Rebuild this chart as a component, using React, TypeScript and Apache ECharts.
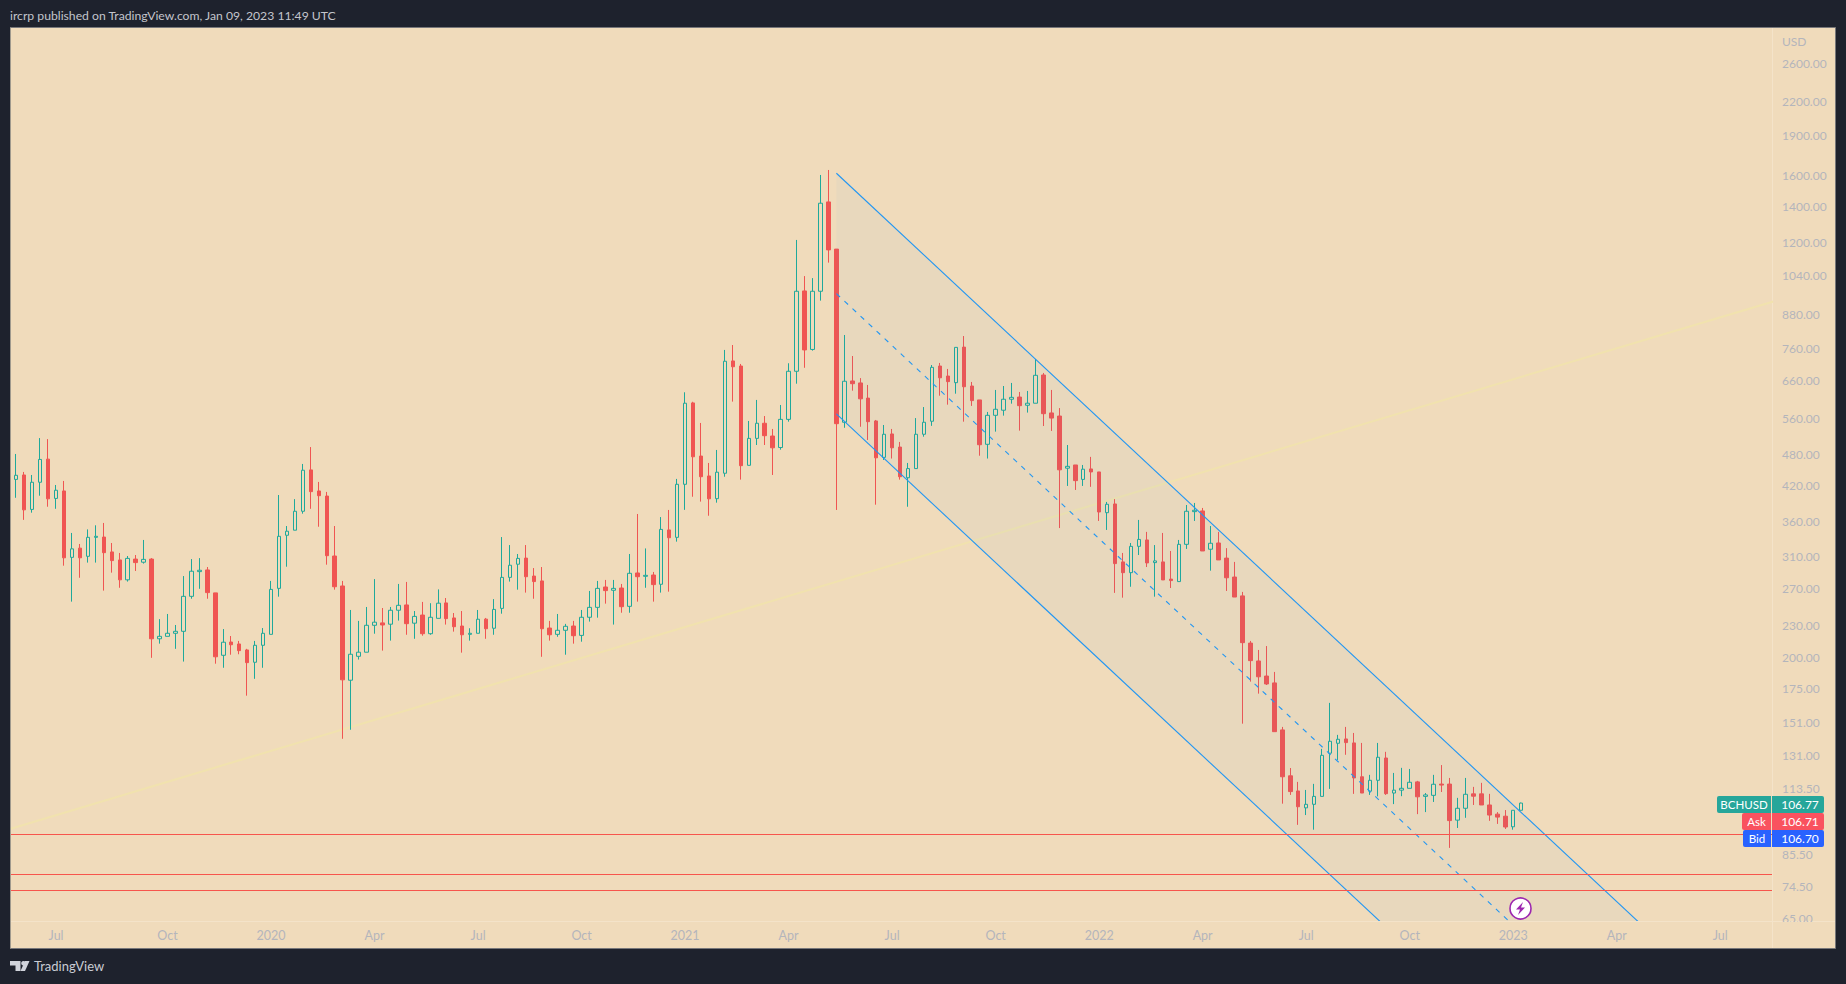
import React, { useEffect, useRef } from "react";
import * as echarts from "echarts";

// weekly candles: [open, close, low, high]
const candles2019 = [
  [415.0,431.4,403.3,449.4],[431.4,439.1,398.5,481.4],[439.7,378.3,362.3,445.5],[379.0,426.1,373.7,439.7],[426.1,470.2,402.1,515.6],
  [470.8,396.7,383.4,513.3],[397.4,411.7,380.0,421.1],[410.4,307.6,297.3,428.5],[308.2,319.7,254.6,342.4],[320.7,307.6,282.2,326.5],
  [309.6,336.0,301.3,347.7],[336.0,337.5,301.3,353.9],[336.4,314.5,267.0,357.5],[315.5,303.9,288.5,327.9],[304.8,279.7,270.3,314.1],
  [279.7,306.8,277.6,310.0],[305.9,301.3,290.6,311.3],[301.8,305.5,300.0,332.2],[305.9,216.9,199.8,307.2],[216.9,219.2,212.4,236.1],
  [219.2,222.1,219.2,241.4],[222.1,224.0,207.7,230.2],[224.0,260.5,196.6,284.3],[260.5,290.3,257.8,305.9],[289.8,291.5,269.1,307.2],
  [291.9,264.7,257.8,295.6],[264.4,200.7,194.8,264.4],[202.0,213.7,191.4,226.2],[213.9,211.4,202.5,219.5],[212.1,206.1,202.9,214.9],
  [206.7,195.7,169.7,207.7],[196.0,210.9,182.5,214.9],[210.9,222.1,191.4,227.2],
];
const candles2020 = [
  [221.1,268.4,221.1,278.4],[269.6,337.5,260.1,403.3],[339.0,345.0,296.0,352.8],[346.5,376.0,346.5,396.2],[376.0,448.8,372.1,461.1],
  [449.4,409.2,380.0,496.0],[410.4,402.1,351.7,426.7],[401.5,310.4,298.6,408.7],[310.0,271.5,268.1,352.8],[272.4,181.7,140.9,278.4],
  [181.4,202.9,146.5,245.6],[201.1,204.7,198.3,234.3],[204.7,229.9,204.7,248.8],[229.9,233.0,221.7,280.6],[232.3,230.2,206.1,247.7],
  [231.0,245.3,215.2,248.8],[245.3,250.6,234.6,274.8],[251.0,231.5,220.7,277.2],[232.0,238.9,216.9,244.5],[240.3,221.7,219.8,254.3],
  [221.7,238.0,220.7,252.9],[236.9,252.9,236.9,268.4],[253.2,236.6,230.6,258.6],[237.3,228.5,223.7,242.4],[229.2,220.7,204.3,244.5],
  [221.1,222.1,215.2,227.0],[222.1,236.0,222.1,245.6],[236.1,226.5,216.9,237.3],[227.0,246.2,220.7,257.4],[247.3,282.7,241.7,336.4],
  [282.7,297.9,277.6,325.0],[299.2,306.8,268.1,312.7],[307.2,283.5,264.7,325.0],[284.3,277.6,257.8,294.3],[278.4,226.5,200.7,295.6],
  [227.2,220.7,215.2,234.3],[221.1,225.0,218.8,241.4],[225.0,228.9,202.5,231.3],[229.2,219.8,212.4,234.3],[220.1,238.0,214.2,245.6],
  [238.0,248.4,233.6,266.6],[248.4,269.6,237.6,278.4],[271.2,267.0,252.4,279.6],[267.4,269.6,230.6,279.6],[270.0,249.1,242.7,274.8],
  [249.5,287.7,242.7,312.7],[288.1,283.5,254.6,371.6],[284.0,285.2,270.3,320.3],[285.6,274.0,254.6,289.4],[274.4,347.7,264.7,366.7],
  [346.9,335.4,265.8,378.1],[336.0,422.4,329.8,432.3],
];
const candles2021 = [
  [422.4,599.2,378.3,628.2],[600.0,475.6,400.3,603.0],[477.1,436.4,392.0,550.3],[437.8,396.7,368.8,463.1],[397.0,445.0,390.2,489.8],
  [443.0,718.2,436.4,754.1],[719.1,701.3,603.4,770.3],[703.5,457.7,431.0,709.8],[458.4,514.9,458.4,555.1],[514.9,549.6,500.4,607.8],
  [549.6,520.9,500.4,567.0],[520.2,494.4,439.7,536.3],[495.0,558.9,490.4,594.7],[558.9,687.8,553.4,712.0],[687.8,971.3,651.9,1212],
  [972.6,754.1,698.2,1037],[755.7,971.3,751.8,1028],[971.3,1420,932.8,1604],[1428,1161,1099,1639],[1165,548.6,378.1,1165],
  [552.0,658.8,539.0,804.3],[659.6,651.9,632.6,734.6],[654.0,610.7,541.4,667.8],[612.6,553.4,511.4,648.4],[555.1,473.5,386.8,557.5],
  [474.4,524.1,469.2,545.5],[524.8,494.4,472.0,536.3],[496.0,436.4,431.0,507.0],[434.5,452.0,383.4,463.1],[452.0,524.1,452.0,562.0],
  [524.1,552.0,518.6,589.4],[554.4,699.5,543.5,706.6],[703.5,668.7,619.0,712.9],[673.8,657.7,595.5,694.7],[654.8,762.5,624.4,762.5],
  [763.3,643.4,553.4,800.7],[645.4,606.0,592.3,656.8],[607.8,501.0,477.8,607.8],[501.9,568.8,472.0,577.1],[568.8,583.8,530.1,634.5],
  [581.4,609.6,568.0,645.4],[609.6,614.6,598.1,654.0],[615.4,592.9,532.4,629.0],[594.0,599.2,575.5,631.8],[599.2,675.9,599.2,725.3],
  [676.8,572.8,543.1,682.8],[574.6,562.0,531.7,634.5],[567.0,449.6,349.7,586.8],[452.8,456.4,419.4,500.4],[459.1,429.1,412.2,459.1],
  [431.4,450.8,419.4,459.1],[451.3,445.5,417.8,475.4],
];
const candles2022 = [
  [445.5,374.8,360.6,445.5],[373.7,387.5,346.9,391.4],[388.0,300.0,264.4,396.2],[302.2,288.5,259.0,314.1],[288.5,323.2,271.5,327.9],
  [323.2,333.0,311.3,362.2],[332.2,300.9,295.6,344.0],[301.3,303.5,260.1,325.0],[302.2,279.6,279.6,342.4],[280.6,278.8,270.0,316.8],
  [277.6,326.0,277.6,332.2],[326.0,376.0,319.6,386.3],[375.4,377.6,360.6,389.7],[376.5,316.8,316.8,381.4],[319.2,327.5,291.0,352.8],
  [327.9,304.8,304.8,344.0],[307.2,282.2,266.6,320.7],[283.1,259.7,259.7,302.2],[261.0,213.3,150.4,265.5],[212.9,197.4,180.3,214.9],
  [197.1,184.1,171.2,206.7],[184.7,178.5,177.7,210.2],[179.3,145.3,145.3,188.0],[146.4,119.6,106.5,148.3],[120.1,112.2,110.6,124.2],
  [112.5,105.1,97.2,117.0],[104.6,106.2,101.4,113.0],[106.2,109.9,95.2,116.0],[109.9,131.2,109.9,134.9],[132.4,139.4,113.5,164.5],
  [138.2,140.6,128.6,143.3],[140.8,138.6,131.5,148.3],[138.4,119.0,111.1,144.5],[119.6,111.5,111.5,138.4],[112.4,117.8,110.6,120.6],
  [117.8,130.1,109.9,138.4],[129.7,111.2,110.6,133.2],[111.5,112.9,106.3,121.6],[112.9,113.8,110.0,124.3],[113.8,116.8,113.8,123.7],
  [117.0,109.7,101.8,117.5],[109.9,110.6,102.7,111.5],[110.4,115.8,107.3,120.6],[115.9,115.4,112.0,125.8],[115.9,99.0,88.0,119.0],
  [99.2,104.4,95.9,109.2],[104.4,110.9,100.2,119.0],[111.1,110.0,105.9,114.5],[111.1,105.9,105.9,116.5],[105.9,101.4,98.9,111.1],
  [101.8,100.5,97.6,102.7],[100.9,96.3,95.5,103.6],
];
const candles2023 = [[96.4,103.5,95.2,103.5],[103.5,106.77,103.5,107.0]];

const weekCount = 222;
const firstWeekUtc = Date.UTC(2019, 4, 20);
const weeks = Array.from({ length: weekCount }, (_, i) =>
  new Date(firstWeekUtc + i * 7 * 86400000).toISOString().slice(0, 10)
);

const xTickLabels: Record<number, string> = {
  6: "Jul", 20: "Oct", 33: "2020", 46: "Apr", 59: "Jul", 72: "Oct", 85: "2021", 98: "Apr", 111: "Jul",
  124: "Oct", 137: "2022", 150: "Apr", 163: "Jul", 176: "Oct", 189: "2023", 202: "Apr", 215: "Jul",
};
const yTicks = [65, 74.5, 85.5, 113.5, 131, 151, 175, 200, 230, 270, 310, 360, 420, 480, 560, 660, 760, 880, 1040, 1200, 1400, 1600, 1900, 2200, 2600];
const yMin = 64.2;
const yMax = 3037;

// horizontal support levels (price)
const supportLevels = [93.3, 78.5, 73.3];
// [week index, price]
const channelUpper = [[104, 1616], [205, 63.4]];
const channelMiddle = [[104, 961.6], [189, 63.07]];
const channelLower = [[104, 572.1], [173, 62.6]];
const trendLine = [[0, 95.3], [222, 932.5]];

const tags = [
  { name: "BCHUSD", value: "106.77", color: "#26a69a", left: 1717 },
  { name: "Ask", value: "106.71", color: "#f9525f", left: 1742 },
  { name: "Bid", value: "106.70", color: "#2962ff", left: 1743 },
];

const FONT = "Lato, 'Noto Sans', sans-serif";
const DARK = "#1e222d";
const PEACH = "#f0dbbb";
const AXIS_TEXT = "#b4b5bb";
const GREEN = "#1fa99b";
const RED = "#f05552";
const BLUE = "#2196f3";

function buildOption() {
  const candles = [...candles2019, ...candles2020, ...candles2021, ...candles2022, ...candles2023];
  const tagElements: any[] = [];
  tags.forEach((t, i) => {
    const top = 796 + i * 17;
    tagElements.push(
      { type: "rect", z: 110, shape: { x: t.left, y: top, width: 1771 - t.left, height: 17, r: [2, 0, 0, 2] }, style: { fill: t.color } },
      { type: "rect", z: 110, shape: { x: 1772, y: top, width: 52, height: 17, r: [0, 2, 2, 0] }, style: { fill: t.color } },
      { type: "text", z: 111, style: { x: (t.left + 1771) / 2, y: top + 8.5, text: t.name, fill: "#ffffff", font: `11.5px ${FONT}`, textAlign: "center", textVerticalAlign: "middle" } },
      { type: "text", z: 111, style: { x: 1800, y: top + 8.5, text: t.value, fill: "#ffffff", font: `12px ${FONT}`, textAlign: "center", textVerticalAlign: "middle" } }
    );
  });

  const graphic: any[] = [
    { type: "rect", z: -10, shape: { x: 10.5, y: 27.5, width: 1825, height: 921 }, style: { fill: PEACH, stroke: "#77777a", lineWidth: 1 } },
    { type: "line", z: -9, shape: { x1: 1772.5, y1: 28, x2: 1772.5, y2: 948 }, style: { stroke: "#f4e3c9", lineWidth: 1 } },
    { type: "line", z: -9, shape: { x1: 11, y1: 921.5, x2: 1835, y2: 921.5 }, style: { stroke: "#f4e3c9", lineWidth: 1 } },
    // left margin cover, clips the partly hidden first week
    { type: "rect", z: 100, shape: { x: 0, y: 27, width: 10, height: 922 }, style: { fill: DARK } },
    { type: "line", z: 101, shape: { x1: 10.5, y1: 27.5, x2: 10.5, y2: 948.5 }, style: { stroke: "#a09a8e", lineWidth: 1 } },
    // bottom of the price scale: the lowest label is cut by the time scale
    { type: "rect", z: 100, shape: { x: 1773, y: 922, width: 62, height: 26 }, style: { fill: PEACH } },
    { type: "text", z: 111, style: { x: 10, y: 15, text: "ircrp published on TradingView.com, Jan 09, 2023 11:49 UTC", fill: "#c3c5cc", font: `12.2px ${FONT}`, textVerticalAlign: "middle" } },
    { type: "text", z: 111, style: { x: 1782, y: 41, text: "USD", fill: AXIS_TEXT, font: `12px ${FONT}`, textVerticalAlign: "middle" } },
    // TradingView logo
    { type: "polygon", z: 111, shape: { points: [[10, 961], [20.5, 961], [20.5, 971], [15.5, 971], [15.5, 965.5], [10, 965.5]] }, style: { fill: "#d1d4dc" } },
    { type: "circle", z: 111, shape: { cx: 23.5, cy: 963.3, r: 2.3 }, style: { fill: "#d1d4dc" } },
    { type: "polygon", z: 111, shape: { points: [[29.5, 961], [25, 971], [20.5, 971], [25, 961]] }, style: { fill: "#d1d4dc" } },
    { type: "text", z: 111, style: { x: 34, y: 966, text: "TradingView", fill: "#c9ccd4", font: `13px ${FONT}`, textVerticalAlign: "middle" } },
    // idea marker
    { type: "circle", z: 120, shape: { cx: 1520.5, cy: 908.5, r: 10.5 }, style: { fill: "#ffffff", stroke: "#9c27b0", lineWidth: 1.6 } },
    { type: "polygon", z: 121, shape: { points: [[1523, 902], [1516, 909.5], [1520, 909.5], [1518, 915], [1525, 907.5], [1521, 907.5]] }, style: { fill: "#9c27b0" } },
    ...tagElements,
  ];

  return {
    animation: false,
    backgroundColor: DARK,
    graphic,
    grid: { left: 4.3, top: 27, width: 1767.7, height: 894, containLabel: false },
    xAxis: {
      type: "category",
      data: weeks,
      boundaryGap: true,
      axisLine: { show: false },
      axisTick: { show: false },
      splitLine: { show: false },
      axisLabel: {
        interval: (i: number) => xTickLabels[i] !== undefined,
        formatter: (_: string, i: number) => xTickLabels[i] ?? "",
        color: AXIS_TEXT,
        fontFamily: FONT,
        fontSize: 12.5,
        margin: 8,
      },
    },
    yAxis: {
      type: "log",
      logBase: 10,
      position: "right",
      min: yMin,
      max: yMax,
      axisLine: { show: false },
      axisTick: { show: false },
      splitLine: { show: false },
      minorTick: { show: false },
      axisLabel: {
        customValues: yTicks,
        formatter: (v: number) => Number(v).toFixed(2),
        color: AXIS_TEXT,
        fontFamily: FONT,
        fontSize: 12,
        margin: 10,
        padding: [2, 0, 0, 0],
        showMinLabel: true,
        showMaxLabel: true,
      },
    },
    series: [
      {
        type: "custom",
        z: 1,
        clip: true,
        silent: true,
        data: [trendLine[0]],
        encode: { x: 0, y: 1 },
        renderItem: (_: any, api: any) => ({
          type: "line",
          shape: (() => {
            const a = api.coord(trendLine[0]);
            const b = api.coord(trendLine[1]);
            return { x1: a[0], y1: a[1], x2: b[0], y2: b[1] };
          })(),
          style: { stroke: "#f1e2ae", lineWidth: 2, fill: null },
        }),
      },
      {
        type: "candlestick",
        z: 2,
        clip: true,
        silent: true,
        barWidth: 4,
        data: candles,
        itemStyle: { color: "transparent", color0: RED, borderColor: GREEN, borderColor0: RED, borderWidth: 1 },
        markLine: {
          silent: true,
          symbol: "none",
          label: { show: false },
          lineStyle: { color: "#f7554c", width: 1, type: "solid" },
          data: supportLevels.map((v) => ({ yAxis: v })),
        },
      },
      {
        type: "custom",
        z: 3,
        clip: true,
        silent: true,
        data: [channelUpper[0]],
        encode: { x: 0, y: 1 },
        renderItem: (_: any, api: any) => {
          const u0 = api.coord(channelUpper[0]);
          const u1 = api.coord(channelUpper[1]);
          const m0 = api.coord(channelMiddle[0]);
          const m1 = api.coord(channelMiddle[1]);
          const l0 = api.coord(channelLower[0]);
          const l1 = api.coord(channelLower[1]);
          const line = (a: number[], b: number[], dash?: number[]) => ({
            type: "line",
            shape: { x1: a[0], y1: a[1], x2: b[0], y2: b[1] },
            style: { stroke: BLUE, lineWidth: 1.1, lineDash: dash, fill: null },
          });
          return {
            type: "group",
            children: [
              { type: "polygon", shape: { points: [u0, u1, l1, l0] }, style: { fill: "rgba(33,150,243,0.035)" } },
              line(u0, u1),
              line(m0, m1, [5, 6]),
              line(l0, l1),
            ],
          };
        },
      },
    ],
  };
}

export default function App() {
  const ref = useRef<HTMLDivElement>(null);
  useEffect(() => {
    document.body.style.margin = "0";
    document.body.style.background = DARK;
    const chart = echarts.init(ref.current!, undefined, { renderer: "svg" });
    chart.setOption(buildOption() as any);
    return () => chart.dispose();
  }, []);
  return <div ref={ref} style={{ position: "fixed", left: 0, top: 0, width: 1846, height: 984 }} />;
}
